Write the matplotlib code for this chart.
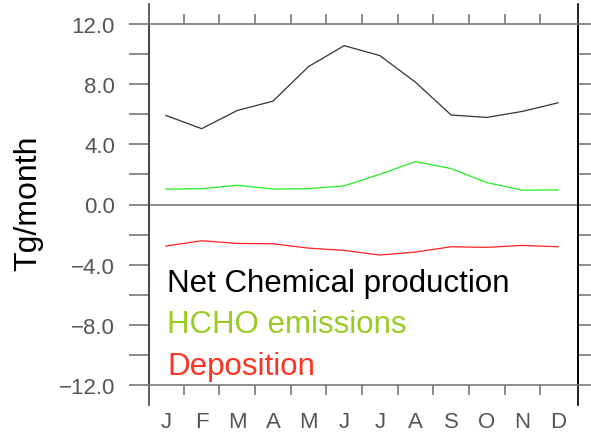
import numpy as np
import matplotlib
matplotlib.use('Agg')
import matplotlib.pyplot as plt

plt.rcParams['font.family'] = ['Liberation Sans', 'DejaVu Sans']

months = ['J', 'F', 'M', 'A', 'M', 'J', 'J', 'A', 'S', 'O', 'N', 'D']
net_chem = [5.92, 5.04, 6.25, 6.87, 9.17, 10.56, 9.90, 8.13, 5.95, 5.79, 6.19, 6.76]
hcho_emis = [1.02, 1.05, 1.28, 1.03, 1.05, 1.24, 2.01, 2.85, 2.39, 1.46, 0.95, 0.97]
deposition = [-2.76, -2.41, -2.59, -2.61, -2.90, -3.05, -3.36, -3.16, -2.81, -2.85, -2.72, -2.81]

series = [
    ("Net Chemical production", net_chem, '#333333', 'black'),
    ("HCHO emissions", hcho_emis, '#22ee22', '#99cc22'),
    ("Deposition", deposition, '#ff2222', '#ff3322'),
]

x = np.arange(1, 13)

fig = plt.figure(figsize=(5.91, 4.35), dpi=100)
ax = fig.add_axes([149 / 591, 1 - 386 / 435, 429 / 591, 361 / 435])

for name, vals, lc, tc in series:
    ax.plot(x, vals, color=lc, lw=0.9)

ax.axhline(0, color='#777777', lw=1.2)

ax.set_xlim(0.523, 12.56)
ax.set_ylim(-12, 12)

# boundaries between months as ticks, month names as labels
ax.set_xticks(np.arange(1.5, 12, 1.0))
ax.set_xticklabels([])
ax.set_xticks(x, minor=True)
ax.set_xticklabels(months, minor=True)
ax.tick_params(axis='x', which='major', direction='out', length=7.2, width=1.2,
               color='#777777', top=True, bottom=True)
ax.tick_params(axis='x', which='minor', length=0, pad=19, labelsize=16,
               labelcolor='#555555')

ax.set_yticks(np.arange(-12, 13, 4))
ax.set_yticklabels([f"{v:.1f}".replace('-', '\u2212') for v in np.arange(-12, 13, 4)])
ax.set_yticks(np.arange(-12, 13, 2), minor=True)
ax.tick_params(axis='y', which='both', direction='out', length=14.4, width=1.2,
               color='#777777', left=True, right=True)
ax.tick_params(axis='y', which='major', pad=10, labelsize=16, labelcolor='#555555')

for side in ['top', 'bottom']:
    ax.spines[side].set_color('#777777')
    ax.spines[side].set_linewidth(1.2)
ax.spines['left'].set_color('#444444')
ax.spines['left'].set_linewidth(1.2)
ax.spines['right'].set_color('black')
ax.spines['right'].set_linewidth(1.2)

# vertical frame lines run a little past the box
ext = 20 / 361
ax.plot([0, 0], [-ext, 1 + ext], transform=ax.transAxes, color='#444444',
        lw=1.2, clip_on=False)
ax.plot([1, 1], [-ext, 1 + ext], transform=ax.transAxes, color='black',
        lw=1.2, clip_on=False)

label_y = [0.261, 0.147, 0.0305]
for (name, vals, lc, tc), ly in zip(series, label_y):
    ax.text(0.042, ly, name, transform=ax.transAxes, color=tc, fontsize=22.5,
            va='baseline', ha='left')

fig.text(28 / 591, 1 - 203 / 435, "Tg/month", rotation=90, fontsize=23,
         ha='center', va='center', color='black')

fig.savefig('out.png', dpi=100)
